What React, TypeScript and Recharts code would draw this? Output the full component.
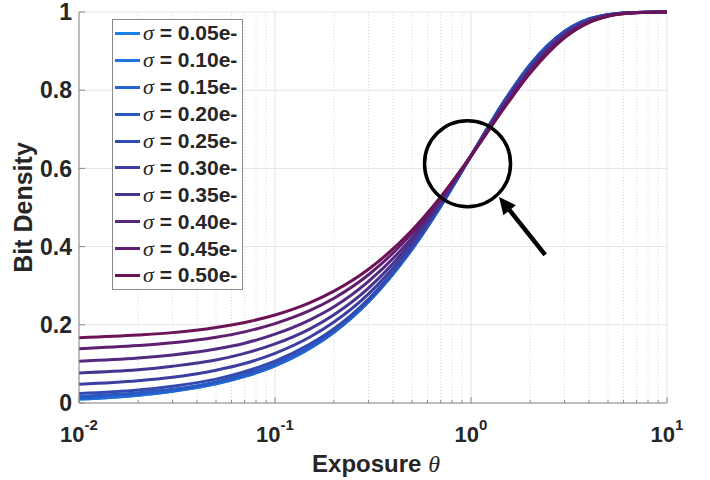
import { LineChart, Line, XAxis, YAxis, CartesianGrid, ReferenceLine, ReferenceDot, Legend } from "recharts";

// exposure values (log axis) the curves were read at
const theta = [0.01, 0.02, 0.03, 0.05, 0.07, 0.1, 0.15, 0.2, 0.3, 0.5, 0.7, 1, 1.5, 2, 3, 4, 5, 7, 10];

// bit density per read-noise level
const s005 = [0.010, 0.020, 0.030, 0.049, 0.068, 0.095, 0.139, 0.181, 0.259, 0.393, 0.503, 0.632, 0.777, 0.865, 0.950, 0.982, 0.993, 0.999, 1.0];
const s010 = [0.010, 0.020, 0.030, 0.049, 0.068, 0.095, 0.140, 0.181, 0.259, 0.394, 0.503, 0.632, 0.777, 0.865, 0.950, 0.982, 0.993, 0.999, 1.0];
const s015 = [0.012, 0.022, 0.031, 0.051, 0.069, 0.097, 0.141, 0.183, 0.260, 0.394, 0.504, 0.632, 0.777, 0.864, 0.950, 0.982, 0.993, 0.999, 1.0];
const s020 = [0.016, 0.026, 0.035, 0.054, 0.073, 0.100, 0.144, 0.185, 0.262, 0.395, 0.504, 0.632, 0.776, 0.864, 0.950, 0.981, 0.993, 0.999, 1.0];
const s025 = [0.024, 0.033, 0.043, 0.061, 0.080, 0.107, 0.150, 0.190, 0.266, 0.398, 0.506, 0.632, 0.775, 0.863, 0.949, 0.981, 0.993, 0.999, 1.0];
const s030 = [0.048, 0.057, 0.066, 0.084, 0.101, 0.127, 0.168, 0.207, 0.279, 0.405, 0.509, 0.632, 0.773, 0.859, 0.946, 0.980, 0.992, 0.999, 1.0];
const s035 = [0.077, 0.085, 0.094, 0.110, 0.127, 0.151, 0.189, 0.226, 0.294, 0.414, 0.514, 0.632, 0.769, 0.855, 0.943, 0.978, 0.991, 0.999, 1.0];
const s040 = [0.107, 0.115, 0.123, 0.138, 0.153, 0.176, 0.212, 0.246, 0.311, 0.423, 0.518, 0.632, 0.766, 0.851, 0.940, 0.976, 0.991, 0.999, 1.0];
const s045 = [0.139, 0.147, 0.154, 0.168, 0.182, 0.203, 0.236, 0.268, 0.328, 0.434, 0.523, 0.632, 0.762, 0.847, 0.937, 0.974, 0.990, 0.998, 1.0];
const s050 = [0.167, 0.174, 0.180, 0.193, 0.206, 0.225, 0.256, 0.286, 0.342, 0.442, 0.527, 0.632, 0.759, 0.843, 0.934, 0.973, 0.989, 0.998, 1.0];

const seriesKeys = ["s005", "s010", "s015", "s020", "s025", "s030", "s035", "s040", "s045", "s050"];
const seriesValues = [s005, s010, s015, s020, s025, s030, s035, s040, s045, s050];
const seriesNames = ["0.05e-", "0.10e-", "0.15e-", "0.20e-", "0.25e-", "0.30e-", "0.35e-", "0.40e-", "0.45e-", "0.50e-"];
const seriesColors = ["#1f80e9", "#1f72df", "#2465d2", "#2a58c2", "#334bb1", "#3c3f9f", "#473390", "#532982", "#601e70", "#6c1358"];

const majorX = [0.01, 0.1, 1, 10];
const minorX = [0.02, 0.03, 0.04, 0.05, 0.06, 0.07, 0.08, 0.09, 0.2, 0.3, 0.4, 0.5, 0.6, 0.7, 0.8, 0.9, 2, 3, 4, 5, 6, 7, 8, 9];
const xExponents = ["-2", "-1", "0", "1"];
const yTicks = [0, 0.2, 0.4, 0.6, 0.8, 1];

// annotation: circle around the crossing point and an arrow pointing at it
const circleAt = { x: 0.96, y: 0.612 };
const arrowFrom = { x: 2.39, y: 0.379 };
const arrowTo = { x: 1.39, y: 0.527 };

const data = theta.map((t, i) => {
  const row: Record<string, number> = { theta: t };
  seriesKeys.forEach((k, j) => (row[k] = seriesValues[j][i]));
  return row;
});

const xTicks = [...majorX, ...minorX].sort((a, b) => a - b);

const SANS = "'Liberation Sans', Arial, Helvetica, sans-serif";
const SERIF = "'Liberation Serif', 'Times New Roman', serif";
const AXIS = "#8a8a8a";
const TEXT = "#262626";

function BottomTick({ x, y, payload }: any) {
  const idx = majorX.indexOf(payload.value);
  return (
    <g>
      <line x1={x} x2={x} y1={y} y2={y - (idx >= 0 ? 6 : 3)} stroke={AXIS} />
      {idx >= 0 && (
        <text x={x} y={y + 39} textAnchor="middle" fontFamily={SANS} fontWeight="bold" fontSize={22} fill={TEXT}>
          10
          <tspan dy={-12} fontSize={15}>
            {xExponents[idx]}
          </tspan>
        </text>
      )}
    </g>
  );
}

function TopTick({ x, y, payload }: any) {
  const major = majorX.includes(payload.value);
  return <line x1={x} x2={x} y1={y} y2={y + (major ? 6 : 3)} stroke={AXIS} />;
}

function LeftTick({ x, y, payload }: any) {
  const v = payload.value;
  const label = v === 0 || v === 1 ? String(v) : v.toFixed(1);
  return (
    <g>
      <line x1={x} x2={x + 6} y1={y} y2={y} stroke={AXIS} />
      <text x={x - 7} y={y} dy="0.355em" textAnchor="end" fontFamily={SANS} fontWeight="bold" fontSize={23} fill={TEXT}>
        {label}
      </text>
    </g>
  );
}

function RightTick({ x, y }: any) {
  return <line x1={x} x2={x - 6} y1={y} y2={y} stroke={AXIS} />;
}

function Arrow(props: any) {
  const { x1, y1, x2, y2 } = props;
  const dx = x2 - x1;
  const dy = y2 - y1;
  const len = Math.sqrt(dx * dx + dy * dy);
  const ux = dx / len;
  const uy = dy / len;
  const headLen = 17;
  const headHalf = 8;
  const bx = x2 - ux * headLen;
  const by = y2 - uy * headLen;
  return (
    <g>
      <line x1={x1} y1={y1} x2={bx + ux * 2} y2={by + uy * 2} stroke="#000" strokeWidth={4.5} />
      <polygon
        points={`${x2},${y2} ${bx - uy * headHalf},${by + ux * headHalf} ${bx + uy * headHalf},${by - ux * headHalf}`}
        fill="#000"
      />
    </g>
  );
}

function LegendBox() {
  return (
    <div
      style={{
        width: 129,
        border: "1px solid #8a8a8a",
        background: "#fff",
        padding: 0,
      }}
    >
      {seriesNames.map((n, i) => (
        <div key={n} style={{ display: "flex", alignItems: "center", height: 26.9 }}>
          <div style={{ width: 25, height: 3, marginLeft: 2, background: seriesColors[i] }} />
          <span style={{ marginLeft: 3, fontFamily: SERIF, fontStyle: "italic", fontSize: 22, color: TEXT }}>σ</span>
          <span style={{ fontFamily: SANS, fontWeight: "bold", fontSize: 21, color: TEXT, whiteSpace: "pre" }}>
            {" = " + n}
          </span>
        </div>
      ))}
    </div>
  );
}

export default function App() {
  return (
    <div style={{ position: "absolute", left: 0, top: 0, background: "#fff" }}>
      <LineChart width={710} height={480} data={data} margin={{ top: 12, right: 43, left: 0, bottom: 0 }}>
        <CartesianGrid vertical={false} stroke="#e4e4e4" />
        {minorX.map((v) => (
          <ReferenceLine key={"m" + v} x={v} stroke="#dadada" strokeDasharray="1 2" />
        ))}
        {majorX.map((v) => (
          <ReferenceLine key={"M" + v} x={v} stroke="#e4e4e4" />
        ))}
        <XAxis
          dataKey="theta"
          type="number"
          scale="log"
          domain={[0.01, 10]}
          ticks={xTicks}
          interval={0}
          height={77}
          tick={BottomTick}
          tickLine={false}
          tickSize={0}
          tickMargin={0}
          axisLine={{ stroke: AXIS }}
          allowDataOverflow
          label={({ viewBox }: any) => (
            <text x={viewBox.x + viewBox.width / 2 + 3} y={472} textAnchor="middle" fontFamily={SANS} fontWeight="bold" fontSize={24} fill={TEXT}>
              Exposure{" "}
              <tspan fontFamily={SERIF} fontStyle="italic" fontWeight="normal">
                θ
              </tspan>
            </text>
          )}
        />
        <XAxis
          xAxisId="top"
          orientation="top"
          type="number"
          scale="log"
          domain={[0.01, 10]}
          ticks={xTicks}
          interval={0}
          height={0}
          tick={TopTick}
          tickLine={false}
          tickSize={0}
          tickMargin={0}
          axisLine={{ stroke: AXIS }}
          allowDataOverflow
        />
        <YAxis
          type="number"
          domain={[0, 1]}
          ticks={yTicks}
          interval={0}
          width={79}
          tick={LeftTick}
          tickLine={false}
          tickSize={0}
          tickMargin={0}
          axisLine={{ stroke: AXIS }}
          label={({ viewBox }: any) => {
            const cx = 32;
            const cy = viewBox.y + viewBox.height / 2;
            return (
              <text x={cx} y={cy} transform={`rotate(-90, ${cx}, ${cy})`} textAnchor="middle" fontFamily={SANS} fontWeight="bold" fontSize={25} fill={TEXT}>
                Bit Density
              </text>
            );
          }}
        />
        <YAxis
          yAxisId="right"
          orientation="right"
          type="number"
          domain={[0, 1]}
          ticks={yTicks}
          interval={0}
          width={0}
          tick={RightTick}
          tickLine={false}
          tickSize={0}
          tickMargin={0}
          axisLine={{ stroke: AXIS }}
        />
        {seriesKeys.map((k, i) => (
          <Line
            key={k}
            dataKey={k}
            name={"σ = " + seriesNames[i]}
            type="monotone"
            stroke={seriesColors[i]}
            strokeWidth={3}
            dot={false}
            activeDot={false}
            isAnimationActive={false}
          />
        ))}
        <ReferenceDot x={circleAt.x} y={circleAt.y} r={43} fill="none" stroke="#000" strokeWidth={3.5} />
        <ReferenceLine segment={[arrowFrom, arrowTo]} shape={Arrow} />
        <Legend
          layout="vertical"
          align="center"
          verticalAlign="middle"
          content={LegendBox}
          wrapperStyle={{ left: 112, top: 19, width: 131 }}
        />
      </LineChart>
    </div>
  );
}
